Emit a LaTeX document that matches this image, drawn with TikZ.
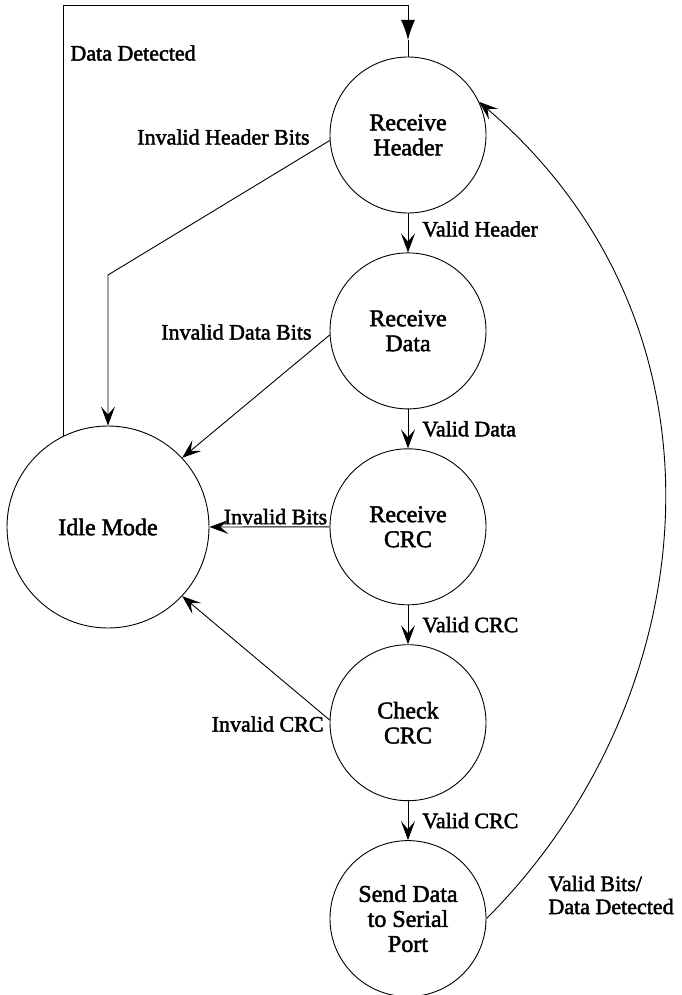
\documentclass[tikz,border=0pt]{standalone}
\usepackage{fontspec}
\setmainfont{Liberation Serif}[FakeBold=2]
\usepackage{tikz}
\usetikzlibrary{arrows.meta}
\usetikzlibrary{positioning}

\begin{document}
\begin{tikzpicture}[x=1pt, y=-1pt, line width=0.9pt,
  state/.style={circle, draw, minimum size=156pt, inner sep=0pt, align=center,
    font=\fontsize{24}{25}\selectfont},
  lbl/.style={font=\fontsize{22}{23}\selectfont, inner sep=2pt},
  >={Stealth[length=19pt, width=14pt, inset=8pt]},
  node distance=39pt]
\useasboundingbox (0,0) rectangle (681,995);
\node[state] (header) at (408,135) {Receive\\Header};
\node[state] (data) [below =of header] {Receive\\Data};
\node[state] (crc) [below =of data] {Receive\\CRC};
\node[state] (check) [below =of crc] {Check\\CRC};
\node[state] (send) [below =of check] {Send Data\\to Serial\\Port};
\node[state, minimum size=202pt] (idle) at (108,527) {Idle Mode};
\coordinate (corner) at (header.north |- 0,5);
\coordinate (tip) at (header.north |- 0,40);
\coordinate (bend) at (idle.north |- 0,275);
\draw[-{Latex[length=20pt, width=14pt]}] (idle.116) |- (corner) -- (tip);
\draw (tip) -- (header.north);
\node[lbl, anchor=west] (detected) at (68,53) {Data Detected};
\draw[->] (header) -- node[lbl, right=12pt, pos=0.4] (vheader) {Valid Header} (data);
\draw[->] (data) -- node[lbl, right=12pt] (vdata) {Valid Data} (crc);
\draw[->] (crc) -- node[lbl, right=12pt] (vcrc) {Valid CRC} (check);
\draw[->] (check) -- node[lbl, right=12pt] (vcheck) {Valid CRC} (send);
\draw[->] (header.184) -- (bend) -- (idle.north);
\node[lbl, anchor=east] (invheader) at (312,137) {Invalid Header Bits};
\draw[->] (data.183) -- (idle.43);
\node[lbl, anchor=east] (invdata) at (314,332) {Invalid Data Bits};
\draw[->] (crc.west) -- node[lbl, above, pos=0.45] (invbits) {Invalid Bits} (idle.east);
\draw[->] (check.178) -- (idle.317);
\node[lbl, anchor=east] (invcrc) at (326,724) {Invalid CRC};
\draw[->] (send.east) .. controls (705,700) and (745,330) .. (header.25);
\node[lbl, anchor=west, align=left] (vbits) at (546,895) {Valid Bits/\\Data Detected};
\end{tikzpicture}
\end{document}
